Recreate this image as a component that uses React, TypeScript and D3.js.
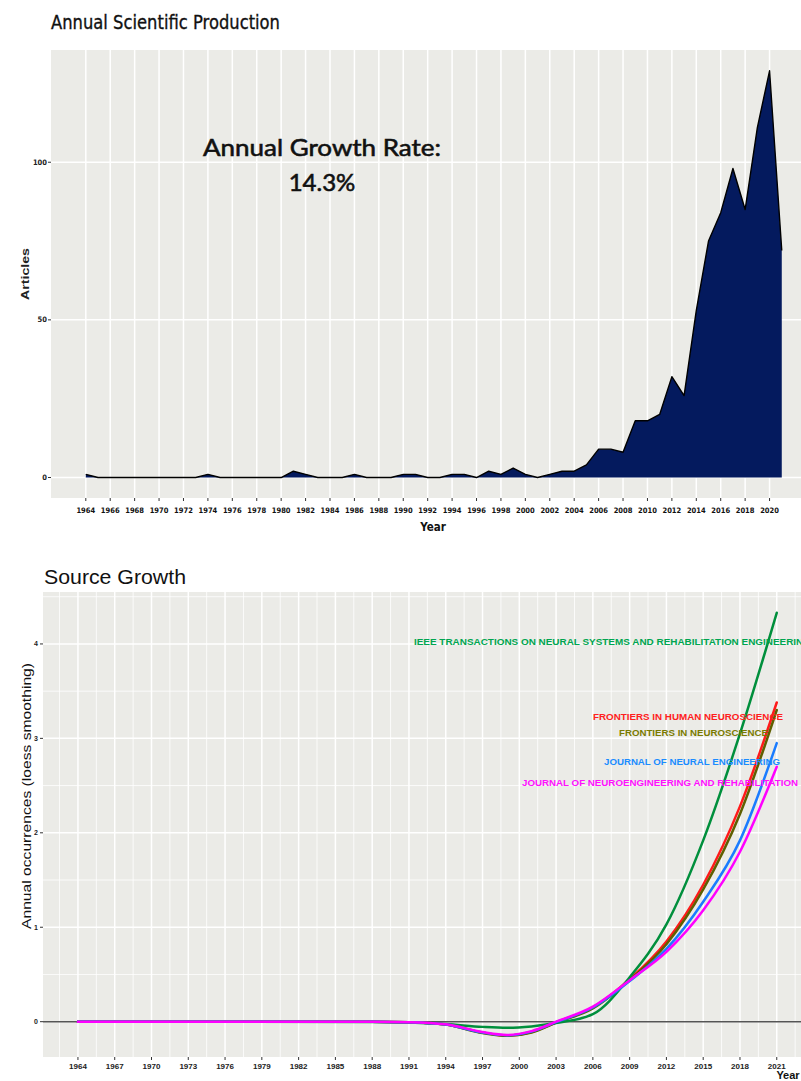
import React from "react";
import * as d3 from "d3";

// ---- Annual Scientific Production ----
const productionYears = d3.range(1964, 2022);
const articles = [
  1, 0, 0, 0, 0, 0, 0, 0, 0, 0, // 1964-1973
  1, 0, 0, 0, 0, 0, 0, 2, 1, 0, // 1974-1983
  0, 0, 1, 0, 0, 0, 1, 1, 0, 0, // 1984-1993
  1, 1, 0, 2, 1, 3, 1, 0, 1, 2, // 1994-2003
  2, 4, 9, 9, 8, 18, 18, 20, 32, 26, // 2004-2013
  53, 75, 84, 98, 85, 111, 129, 72, // 2014-2021
];
const productionTicks = d3.range(1964, 2021, 2);
const articleTicks = [0, 50, 100];

// ---- Source Growth (loess-smoothed annual occurrences) ----
const growthYears = [1964, 1988, 1991, 1994, 1997, 1999, 2001, 2003, 2006, 2009, 2012, 2015, 2018, 2021];
const ieeeTnsre = [0, -0.003, -0.008, -0.025, -0.055, -0.065, -0.05, -0.015, 0.08, 0.47, 1.03, 1.92, 3.05, 4.33];
const frontHumanNeuro = [0, 0, -0.005, -0.03, -0.115, -0.148, -0.11, -0.01, 0.15, 0.45, 0.85, 1.45, 2.28, 3.38];
const frontNeuro = [0, 0, -0.005, -0.03, -0.12, -0.15, -0.115, -0.01, 0.14, 0.44, 0.82, 1.4, 2.2, 3.3];
const jNeuralEng = [0, 0, -0.005, -0.03, -0.115, -0.145, -0.105, -0.005, 0.15, 0.43, 0.77, 1.27, 1.92, 2.95];
const jNeuroEngRehab = [0, 0, -0.005, -0.028, -0.11, -0.14, -0.1, 0.0, 0.16, 0.44, 0.74, 1.18, 1.8, 2.7];
const growthTicks = d3.range(1964, 2022, 3);
const occurrenceTicks = [0, 1, 2, 3, 4];

const sourceNames = [
  "IEEE TRANSACTIONS ON NEURAL SYSTEMS AND REHABILITATION ENGINEERING",
  "FRONTIERS IN HUMAN NEUROSCIENCE",
  "FRONTIERS IN NEUROSCIENCE",
  "JOURNAL OF NEURAL ENGINEERING",
  "JOURNAL OF NEUROENGINEERING AND REHABILITATION",
];
const sourceSeries = [ieeeTnsre, frontHumanNeuro, frontNeuro, jNeuralEng, jNeuroEngRehab];

// styling / layout for the source labels (kept separate from the data)
const sourceColors = ["#008f3c", "#ff1a1a", "#5f5f00", "#1a7cff", "#ff00ff"];
const labelColors = ["#00a550", "#ff2020", "#7a7a00", "#1a8cff", "#ff10ff"];
const labelLayout = [
  { x: 414, y: 645, w: 397 },
  { x: 593, y: 720, w: 190 },
  { x: 619, y: 736, w: 149 },
  { x: 604, y: 765, w: 176 },
  { x: 522, y: 786, w: 276 },
];
const drawOrder = [1, 2, 0, 3, 4];

const PANEL_BG = "#ebebe7";
const W = 801;
const H = 1081;

export default function App() {
  // top chart scales
  const tL = 51, tT = 50, tB = 498;
  const xTop = d3.scaleLinear().domain([1964 - 2.85, 2021 + 2.85]).range([tL, tL + 62.7 * 12.21]);
  const yTop = d3.scaleLinear().domain([-6.5, 135.6]).range([tB, tT]);
  const prodData = productionYears.map((yr, i) => ({ yr, v: articles[i] }));
  const area = d3
    .area<{ yr: number; v: number }>()
    .x((d) => xTop(d.yr))
    .y0(yTop(0))
    .y1((d) => yTop(d.v));
  const line = d3
    .line<{ yr: number; v: number }>()
    .x((d) => xTop(d.yr))
    .y((d) => yTop(d.v));

  // bottom chart scales
  const bL = 43, bT = 592, bB = 1057;
  const xBot = d3.scaleLinear().domain([1964 - 2.85, 2021 + 2.85]).range([bL, bL + 62.7 * 12.26]);
  const yBot = d3.scaleLinear().domain([-0.374, 4.55]).range([bB, bT]);
  const growthLine = d3
    .line<number>()
    .x((_, i) => xBot(growthYears[i]))
    .y((d) => yBot(d))
    .curve(d3.curveMonotoneX);

  const minorX = d3.range(1962.5, 2024, 3);
  const minorY = [0.5, 1.5, 2.5, 3.5, 4.5];

  const condensed = "'Liberation Sans Narrow', 'DejaVu Sans Condensed', 'Liberation Sans', sans-serif";
  const arial = "'Liberation Sans', Arial, sans-serif";

  return (
    <svg
      width={W}
      height={H}
      viewBox={`0 0 ${W} ${H}`}
      style={{ position: "absolute", left: 0, top: 0, background: "#fff" }}
    >
      {/* ===== Annual Scientific Production ===== */}
      <text x={51} y={29} fontFamily="'DejaVu Sans', sans-serif" fontSize={19} textLength={229} lengthAdjust="spacingAndGlyphs" fill="#111" stroke="#111" strokeWidth={0.35}>
        Annual Scientific Production
      </text>
      <clipPath id="clipTop">
        <rect x={tL} y={tT} width={W - tL} height={tB - tT} />
      </clipPath>
      <rect x={tL} y={tT} width={W - tL} height={tB - tT} fill={PANEL_BG} />
      <g clipPath="url(#clipTop)">
        {productionTicks.map((t) => (
          <line key={t} x1={xTop(t)} x2={xTop(t)} y1={tT} y2={tB} stroke="#fff" strokeWidth={1.5} />
        ))}
        {articleTicks.map((t) => (
          <line key={t} x1={tL} x2={W} y1={yTop(t)} y2={yTop(t)} stroke="#fff" strokeWidth={1.5} />
        ))}
        <path d={area(prodData) || ""} fill="#041a5e" />
        <path d={line(prodData) || ""} fill="none" stroke="#000" strokeWidth={1.4} strokeLinejoin="round" />
      </g>
      {articleTicks.map((t) => (
        <g key={t}>
          <line x1={tL - 3} x2={tL} y1={yTop(t)} y2={yTop(t)} stroke="#333" strokeWidth={1} />
          <text x={tL - 4} y={yTop(t) + 2.5} textAnchor="end" fontFamily={condensed} fontWeight="bold" fontSize={7.5} fill="#222">
            {t}
          </text>
        </g>
      ))}
      {productionTicks.map((t) => (
        <g key={t}>
          <line x1={xTop(t)} x2={xTop(t)} y1={tB} y2={tB + 3} stroke="#333" strokeWidth={1} />
          <text x={xTop(t)} y={tB + 15} textAnchor="middle" fontFamily={condensed} fontWeight="bold" fontSize={7.5} fill="#111">
            {t}
          </text>
        </g>
      ))}
      <text x={433} y={531} textAnchor="middle" fontFamily={condensed} fontWeight="bold" fontSize={11.5} fill="#111">
        Year
      </text>
      <text
        transform="translate(29,274) rotate(-90)"
        textAnchor="middle"
        fontFamily={arial}
        fontWeight="bold"
        fontSize={10}
        textLength={52}
        lengthAdjust="spacingAndGlyphs"
        fill="#222"
      >
        Articles
      </text>
      <text x={322} y={156} textAnchor="middle" fontFamily="Lato, 'Open Sans', sans-serif" fontSize={24} textLength={238} lengthAdjust="spacingAndGlyphs" fill="#111" stroke="#111" strokeWidth={0.6}>
        Annual Growth Rate:
      </text>
      <text x={322} y={191} textAnchor="middle" fontFamily="Lato, 'Open Sans', sans-serif" fontSize={24} fill="#111" stroke="#111" strokeWidth={0.6}>
        14.3%
      </text>

      {/* ===== Source Growth ===== */}
      <text x={44} y={584} fontFamily={arial} fontSize={20} textLength={142} lengthAdjust="spacingAndGlyphs" fill="#111">
        Source Growth
      </text>
      <clipPath id="clipBot">
        <rect x={bL} y={bT} width={W - bL} height={bB - bT} />
      </clipPath>
      <rect x={bL} y={bT} width={W - bL} height={bB - bT} fill={PANEL_BG} />
      <g clipPath="url(#clipBot)">
        {minorX.map((t) => (
          <line key={t} x1={xBot(t)} x2={xBot(t)} y1={bT} y2={bB} stroke="#fff" strokeWidth={0.8} />
        ))}
        {growthTicks.map((t) => (
          <line key={t} x1={xBot(t)} x2={xBot(t)} y1={bT} y2={bB} stroke="#fff" strokeWidth={1.5} />
        ))}
        {minorY.map((t) => (
          <line key={t} x1={bL} x2={W} y1={yBot(t)} y2={yBot(t)} stroke="#fff" strokeWidth={0.8} />
        ))}
        {occurrenceTicks.map((t) => (
          <line key={t} x1={bL} x2={W} y1={yBot(t)} y2={yBot(t)} stroke="#fff" strokeWidth={1.5} />
        ))}
        <line x1={bL} x2={W} y1={yBot(0)} y2={yBot(0)} stroke="#555" strokeWidth={1.4} />
        {drawOrder.map((i) => (
          <path
            key={i}
            d={growthLine(sourceSeries[i]) || ""}
            fill="none"
            stroke={sourceColors[i]}
            strokeWidth={2.5}
            strokeLinecap="round"
          />
        ))}
        {sourceNames.map((name, i) => (
          <text
            key={name}
            x={labelLayout[i].x}
            y={labelLayout[i].y}
            fontFamily={arial}
            fontWeight="bold"
            fontSize={9}
            textLength={labelLayout[i].w}
            lengthAdjust="spacingAndGlyphs"
            fill={labelColors[i]}
          >
            {name}
          </text>
        ))}
      </g>
      {occurrenceTicks.map((t) => (
        <g key={t}>
          <line x1={bL - 3} x2={bL} y1={yBot(t)} y2={yBot(t)} stroke="#333" strokeWidth={1} />
          <text x={bL - 5} y={yBot(t) + 2.5} textAnchor="end" fontFamily={arial} fontWeight="bold" fontSize={7} fill="#222">
            {t}
          </text>
        </g>
      ))}
      {growthTicks.map((t) => (
        <g key={t}>
          <line x1={xBot(t)} x2={xBot(t)} y1={bB} y2={bB + 3} stroke="#333" strokeWidth={1} />
          <text x={xBot(t)} y={bB + 12} textAnchor="middle" fontFamily={arial} fontWeight="bold" fontSize={8} fill="#222">
            {t}
          </text>
        </g>
      ))}
      <text x={788} y={1079} textAnchor="middle" fontFamily={arial} fontWeight="bold" fontSize={11} fill="#111">
        Year
      </text>
      <text
        transform="translate(31,796) rotate(-90)"
        textAnchor="middle"
        fontFamily={arial}
        fontSize={12}
        textLength={266}
        lengthAdjust="spacingAndGlyphs"
        fill="#111"
      >
        Annual occurrences (loess smoothing)
      </text>
    </svg>
  );
}
